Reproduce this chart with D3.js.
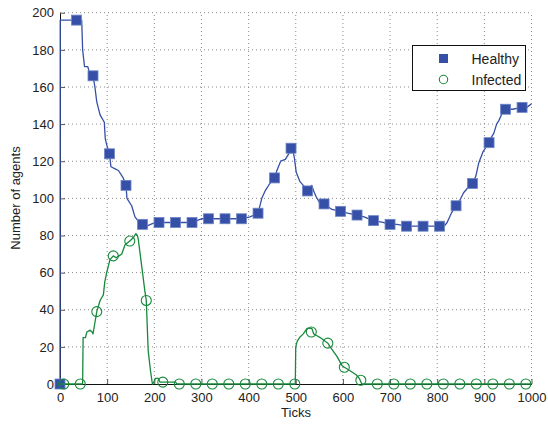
<!DOCTYPE html>
<html lang="en">
<meta charset="utf-8" />
<style>
    body {
        margin: 0;
        background: #fff;
    }

    text {
        font-family: "Liberation Sans", Arial, sans-serif;
        fill: #222;
    }

    .grid line {
        stroke: #8a8a8a;
        stroke-width: 1px;
        stroke-dasharray: 1, 3;
    }
</style>
<body>
<svg width="548" height="424"></svg>
<script src="https://d3js.org/d3.v7.min.js"></script>
<script>
    // healthy agents over time [tick, count]
    var healthyLine = [
        [0, 0], [0.5, 196], [46, 196], [48, 180], [52, 171], [59, 171], [62, 168], [70, 166],
        [74, 160], [78, 152], [85, 145], [94, 141], [96, 132], [100, 128], [105, 124], [108, 117],
        [116, 116], [124, 115], [134, 111], [140, 107], [142, 100], [152, 96], [159, 90], [165, 88],
        [175, 86], [184, 85], [192, 86], [202, 87], [210, 87], [245, 87], [280, 87], [290, 88],
        [300, 89], [315, 89], [350, 89], [385, 89], [403, 90], [420, 92], [428, 100], [435, 104],
        [445, 108], [455, 111], [460, 115], [468, 120], [478, 121], [485, 124], [490, 127], [493, 127],
        [497, 122], [501, 114], [509, 109], [516, 107], [525, 104], [530, 105], [534, 107], [538, 104],
        [543, 101], [552, 97], [560, 97], [577, 94], [595, 93], [610, 92], [630, 91], [645, 90],
        [655, 89], [665, 88], [685, 87], [700, 86], [715, 86], [735, 85], [770, 85], [805, 85],
        [815, 85], [821, 87], [830, 92], [840, 96], [848, 99], [856, 103], [866, 106], [875, 108],
        [882, 112], [888, 119], [897, 125], [910, 130], [915, 133], [920, 135], [926, 140], [931, 142],
        [938, 146], [945, 148], [960, 148], [980, 149], [990, 149], [1000, 151]
    ]

    // infected agents over time [tick, count]
    var infectedLine = [
        [0, 0], [48, 0], [49, 25], [54, 25], [57, 28], [64, 29], [68, 28], [70, 27],
        [74, 33], [78, 39], [85, 45], [92, 48], [95, 55], [99, 60], [106, 67], [113, 69],
        [119, 68], [125, 69], [131, 70], [138, 75], [148, 77], [152, 78], [156, 79], [161, 81],
        [164, 80], [166, 78], [173, 64], [180, 50], [183, 45], [187, 18], [192, 7], [196, 0],
        [199, 1], [202, 3], [209, 3], [212, 1], [245, 1], [248, 0], [499, 0], [500, 20],
        [503, 23], [508, 25], [516, 27], [524, 30], [534, 30], [538, 27], [545, 26], [552, 25],
        [568, 22], [573, 20], [587, 15], [598, 10], [603, 9], [616, 7], [628, 5], [635, 3],
        [640, 0], [1000, 0]
    ]

    // marker ticks and values
    var healthyTicks = d3.range(0, 1000, 35)
    var healthyMarks = [0, 196, 166, 124, 107, 86, 87, 87, 87, 89, 89, 89, 92, 111, 127,
        104, 97, 93, 91, 88, 86, 85, 85, 85, 96, 108, 130, 148, 149]

    var infectedTicks = d3.range(8, 1000, 35)
    var infectedMarks = [0, 0, 39, 69, 77, 45, 1, 0, 0, 0, 0, 0, 0, 0, 0,
        28, 22, 9, 2, 0, 0, 0, 0, 0, 0, 0, 0, 0, 0]

    var xTicks = d3.range(0, 1001, 100)
    var yTicks = d3.range(0, 201, 20)

    var seriesNames = ["Healthy", "Infected"]
    var blue = "#3550a6",
        green = "#17893b"

    var svg = d3.select("svg")

    var x = d3.scaleLinear().domain([0, 1000]).range([60, 531.5])
    var y = d3.scaleLinear().domain([0, 200]).range([384, 12.7])

    // dotted grid
    var grid = svg.append("g").attr("class", "grid")
    grid.selectAll("line.gx")
        .data(xTicks.slice(1))
        .enter()
        .append("line")
        .attr("x1", d => x(d)).attr("x2", d => x(d))
        .attr("y1", y(0)).attr("y2", y(200))
    grid.selectAll("line.gy")
        .data(yTicks.slice(1))
        .enter()
        .append("line")
        .attr("class", "gy")
        .attr("x1", x(0)).attr("x2", x(1000))
        .attr("y1", d => y(d)).attr("y2", d => y(d))

    // axes, ticks pointing inwards like matlab
    var xAxis = svg.append("g")
        .attr("transform", "translate(0," + y(0) + ")")
        .call(d3.axisBottom(x).tickValues(xTicks).tickFormat(d3.format("d"))
            .tickSize(-5).tickPadding(8).tickSizeOuter(0))
    var yAxis = svg.append("g")
        .attr("transform", "translate(" + x(0) + ",0)")
        .call(d3.axisLeft(y).tickValues(yTicks).tickFormat(d3.format("d"))
            .tickSize(-5).tickPadding(6).tickSizeOuter(0))

    svg.selectAll(".tick text")
        .attr("font-size", 13)
        .attr("font-family", "Liberation Sans, Arial, sans-serif")
        .attr("fill", "#222")
    xAxis.selectAll(".tick text").attr("dy", "0.8em")
    svg.selectAll(".domain").attr("stroke", "#111")
    svg.selectAll(".tick line").attr("stroke", "#555")

    svg.append("text")
        .text("Ticks")
        .attr("x", 296)
        .attr("y", 417)
        .attr("text-anchor", "middle")
        .attr("font-size", 13)

    svg.append("text")
        .text("Number of agents")
        .attr("transform", "translate(20,198) rotate(-90)")
        .attr("text-anchor", "middle")
        .attr("font-size", 13)

    var line = d3.line().x(d => x(d[0])).y(d => y(d[1]))

    svg.append("path")
        .datum(healthyLine)
        .attr("d", line)
        .attr("fill", "none")
        .attr("stroke", blue)
        .attr("stroke-width", 1.3)
        .attr("stroke-linejoin", "round")

    svg.selectAll("rect.healthy")
        .data(healthyTicks)
        .enter()
        .append("rect")
        .attr("class", "healthy")
        .attr("x", d => x(d) - 5)
        .attr("y", (d, i) => y(healthyMarks[i]) - 5)
        .attr("width", 10)
        .attr("height", 10)
        .attr("fill", blue)
        .attr("stroke", "#6f86c6")
        .attr("stroke-width", 0.8)

    svg.append("path")
        .datum(infectedLine)
        .attr("d", line)
        .attr("fill", "none")
        .attr("stroke", green)
        .attr("stroke-width", 1.3)
        .attr("stroke-linejoin", "round")

    svg.selectAll("circle.infected")
        .data(infectedTicks)
        .enter()
        .append("circle")
        .attr("class", "infected")
        .attr("cx", d => x(d))
        .attr("cy", (d, i) => y(infectedMarks[i]))
        .attr("r", 5)
        .attr("fill", "none")
        .attr("stroke", green)
        .attr("stroke-width", 1.1)

    // legend
    var legend = svg.append("g").attr("transform", "translate(412.5,45.5)")
    legend.append("rect")
        .attr("width", 113)
        .attr("height", 45)
        .attr("fill", "#fff")
        .attr("stroke", "#111")
        .attr("stroke-width", 1)

    legend.append("rect")
        .attr("x", 26.5).attr("y", 8.5)
        .attr("width", 9).attr("height", 9)
        .attr("fill", blue)
    legend.append("circle")
        .attr("cx", 31).attr("cy", 34)
        .attr("r", 4.2)
        .attr("fill", "none")
        .attr("stroke", green)
        .attr("stroke-width", 1.1)

    legend.selectAll("text")
        .data(seriesNames)
        .enter()
        .append("text")
        .text(d => d)
        .attr("x", 59)
        .attr("y", (d, i) => 18 + i * 21)
        .attr("font-size", 14)
</script>
</body>
</html>
